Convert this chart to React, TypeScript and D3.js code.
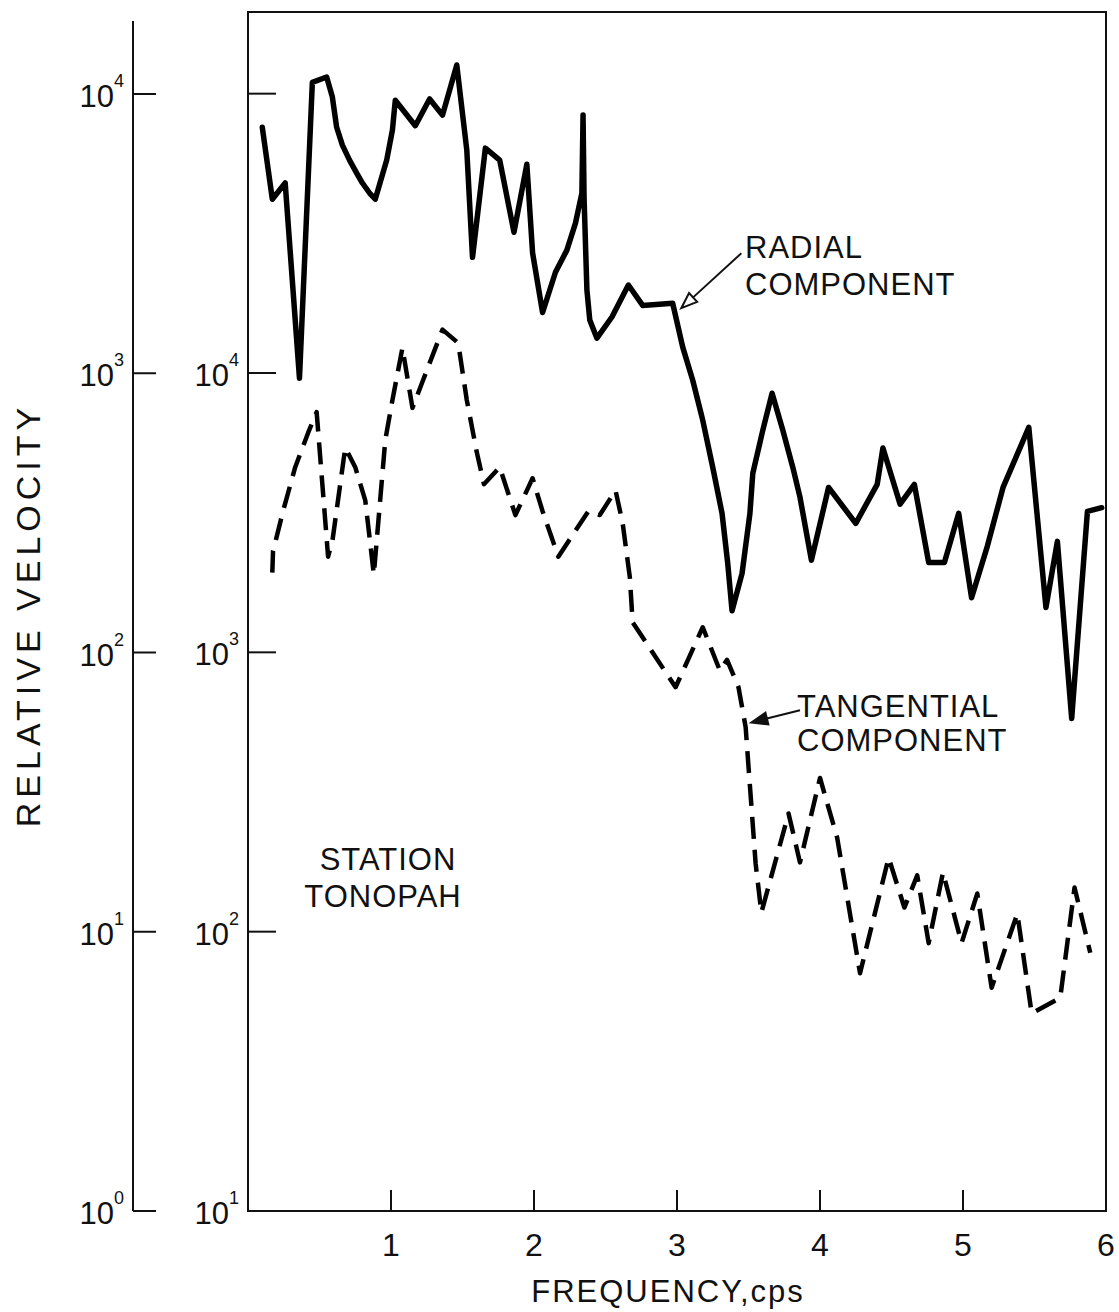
import * as d3 from "d3";
import React, { useEffect, useRef } from "react";

// frequency (cps) and relative velocity
const radialFreq = [0.10, 0.17, 0.26, 0.36, 0.45, 0.55, 0.59, 0.62, 0.66, 0.71, 0.76, 0.80, 0.85, 0.89, 0.97, 1.01, 1.03, 1.17, 1.27, 1.36, 1.46, 1.53, 1.57, 1.66, 1.76, 1.86, 1.95, 1.99, 2.06, 2.15, 2.23, 2.29, 2.335, 2.343, 2.35, 2.37, 2.39, 2.44, 2.545, 2.66, 2.76, 2.97, 3.04, 3.11, 3.18, 3.25, 3.315, 3.355, 3.385, 3.455, 3.51, 3.53, 3.60, 3.665, 3.74, 3.81, 3.86, 3.94, 4.06, 4.25, 4.40, 4.44, 4.56, 4.66, 4.76, 4.87, 4.97, 5.06, 5.17, 5.28, 5.46, 5.58, 5.66, 5.76, 5.87, 5.97];
const radialValues = [7600, 4200, 4800, 960, 11000, 11500, 9750, 7600, 6560, 5800, 5210, 4800, 4420, 4200, 5800, 7430, 9500, 7700, 9600, 8400, 12700, 6300, 2600, 6400, 5800, 3200, 5600, 2700, 1650, 2300, 2760, 3450, 4420, 8410, 4270, 1985, 1550, 1335, 1590, 2070, 1750, 1780, 1240, 944, 679, 460, 315, 208, 141, 192, 315, 438, 625, 848, 625, 460, 360, 214, 390, 290, 400, 540, 340, 400, 210, 210, 315, 157, 240, 390, 640, 145, 250, 58, 320, 330];

const tangentialFreq = [0.17, 0.175, 0.245, 0.33, 0.42, 0.48, 0.56, 0.59, 0.68, 0.75, 0.82, 0.88, 0.96, 1.01, 1.08, 1.15, 1.22, 1.36, 1.47, 1.53, 1.60, 1.65, 1.76, 1.87, 1.99, 2.06, 2.17, 2.38, 2.46, 2.57, 2.62, 2.67, 2.69, 2.99, 3.18, 3.30, 3.35, 3.43, 3.48, 3.50, 3.55, 3.59, 3.78, 3.86, 4.00, 4.12, 4.28, 4.48, 4.59, 4.68, 4.76, 4.86, 4.99, 5.10, 5.20, 5.38, 5.48, 5.68, 5.78, 5.89];
const tangentialValues = [1930, 2300, 3200, 4600, 6100, 7250, 2200, 2500, 5400, 4600, 3500, 1900, 5750, 8000, 12300, 7500, 9300, 14300, 12800, 8000, 5200, 4000, 4600, 3100, 4200, 3200, 2200, 3200, 3100, 3800, 2900, 1860, 1280, 750, 1230, 860, 940, 750, 540, 390, 175, 117, 265, 177, 355, 217, 71, 184, 122, 159, 91, 163, 91, 137, 63, 116, 51, 58, 144, 84];

const freqTicks = [1, 2, 3, 4, 5, 6];
const outerExponents = [0, 1, 2, 3, 4];
const innerExponents = [1, 2, 3, 4];

const FONT = "'Liberation Sans', Arial, sans-serif";

export default function App() {
    const ref = useRef<SVGSVGElement>(null);

    useEffect(() => {
        const svg = d3.select(ref.current);
        svg.selectAll("*").remove();

        const x = d3.scaleLinear().domain([0, 6]).range([248, 1106]);
        // outer axis 10^0..10^4, inner (frame) axis 10^1..10^4
        const yOuter = d3.scaleLog().domain([1, 1e4]).range([1211, 94]);
        const yInner = d3.scaleLog().domain([10, 1e4]).range([1211, 373]);

        const outerX = 133;
        const frameLeft = x(0);
        const frameTop = 12;

        // outer axis
        svg.append("line")
            .attr("x1", outerX).attr("x2", outerX)
            .attr("y1", 21).attr("y2", yOuter(1))
            .attr("stroke", "#111").attr("stroke-width", 2);
        outerExponents.forEach(e => {
            const yy = yOuter(Math.pow(10, e));
            svg.append("line")
                .attr("x1", outerX).attr("x2", outerX + 23)
                .attr("y1", yy).attr("y2", yy)
                .attr("stroke", "#111").attr("stroke-width", 2);
            const t = svg.append("text")
                .attr("x", outerX - 9).attr("y", yy + 13)
                .attr("text-anchor", "end")
                .style("font-family", FONT).style("font-size", "31px").attr("fill", "#111");
            t.append("tspan").text("10");
            t.append("tspan").attr("dy", -20).style("font-size", "18px").text(String(e));
        });

        // frame
        svg.append("rect")
            .attr("x", frameLeft).attr("y", frameTop)
            .attr("width", x(6) - frameLeft).attr("height", yInner(10) - frameTop)
            .attr("fill", "none").attr("stroke", "#111").attr("stroke-width", 2);

        // inner axis ticks (plus the unlabeled one at top)
        [...innerExponents, 5].forEach(e => {
            const yy = yInner(Math.pow(10, e));
            svg.append("line")
                .attr("x1", frameLeft).attr("x2", frameLeft + 28)
                .attr("y1", yy).attr("y2", yy)
                .attr("stroke", "#111").attr("stroke-width", 2);
        });
        innerExponents.forEach(e => {
            const yy = yInner(Math.pow(10, e));
            const t = svg.append("text")
                .attr("x", frameLeft - 9).attr("y", yy + 13)
                .attr("text-anchor", "end")
                .style("font-family", FONT).style("font-size", "31px").attr("fill", "#111");
            t.append("tspan").text("10");
            t.append("tspan").attr("dy", -20).style("font-size", "18px").text(String(e));
        });

        // frequency ticks
        freqTicks.forEach(f => {
            if (f < 6) {
                svg.append("line")
                    .attr("x1", x(f)).attr("x2", x(f))
                    .attr("y1", yInner(10)).attr("y2", yInner(10) - 21)
                    .attr("stroke", "#111").attr("stroke-width", 2);
            }
            svg.append("text")
                .attr("x", x(f)).attr("y", 1256)
                .attr("text-anchor", "middle")
                .style("font-family", FONT).style("font-size", "32px").attr("fill", "#111")
                .text(String(f));
        });

        // axis titles
        svg.append("text")
            .attr("x", 668).attr("y", 1302)
            .attr("text-anchor", "middle")
            .style("font-family", FONT).style("font-size", "31px").style("letter-spacing", "2px")
            .attr("fill", "#111")
            .text("FREQUENCY,cps");
        svg.append("text")
            .attr("transform", "translate(40,615) rotate(-90)")
            .attr("text-anchor", "middle")
            .style("font-family", FONT).style("font-size", "34px").style("letter-spacing", "5px")
            .attr("fill", "#111")
            .text("RELATIVE  VELOCITY");

        // curves
        const radial = radialFreq.map((f, i) => [x(f), yOuter(radialValues[i])] as [number, number]);
        const tangential = tangentialFreq.map((f, i) => [x(f), yInner(tangentialValues[i])] as [number, number]);
        const line = d3.line().curve(d3.curveLinear);

        svg.append("path")
            .attr("d", line(radial))
            .attr("fill", "none").attr("stroke", "#000")
            .attr("stroke-width", 5.5).attr("stroke-linejoin", "round").attr("stroke-linecap", "round");

        svg.append("path")
            .attr("d", line(tangential))
            .attr("fill", "none").attr("stroke", "#000")
            .attr("stroke-width", 4.5).attr("stroke-dasharray", "22,11")
            .attr("stroke-linejoin", "round");

        // annotation arrows
        const arrow = (x1: number, y1: number, x2: number, y2: number, hollow: boolean) => {
            const ang = Math.atan2(y2 - y1, x2 - x1);
            const len = 16, half = 6;
            const bx = x2 - len * Math.cos(ang), by = y2 - len * Math.sin(ang);
            svg.append("line")
                .attr("x1", x1).attr("y1", y1).attr("x2", bx).attr("y2", by)
                .attr("stroke", "#111").attr("stroke-width", 2);
            const pts = [
                [x2, y2],
                [bx + half * Math.sin(ang), by - half * Math.cos(ang)],
                [bx - half * Math.sin(ang), by + half * Math.cos(ang)]
            ];
            svg.append("polygon")
                .attr("points", pts.map(p => p.join(",")).join(" "))
                .attr("fill", hollow ? "#fff" : "#111")
                .attr("stroke", "#111").attr("stroke-width", 2);
        };
        arrow(x(3.45), yOuter(2690), x(3.03), yOuter(1710), true);
        arrow(x(3.86), yInner(620), x(3.52), yInner(561), false);

        const label = (tx: number, ty: number, s: string, anchor = "start") => {
            svg.append("text")
                .attr("x", tx).attr("y", ty)
                .attr("text-anchor", anchor)
                .style("font-family", FONT).style("font-size", "31px").style("letter-spacing", "1px")
                .attr("fill", "#111")
                .text(s);
        };
        label(745, 258, "RADIAL");
        label(745, 295, "COMPONENT");
        label(797, 717, "TANGENTIAL");
        label(797, 751, "COMPONENT");
        label(388, 870, "STATION", "middle");
        label(383, 907, "TONOPAH", "middle");
    }, []);

    return (
        <svg ref={ref} width={1119} height={1312}
            style={{ position: "absolute", left: 0, top: 0, background: "#fff" }} />
    );
}
